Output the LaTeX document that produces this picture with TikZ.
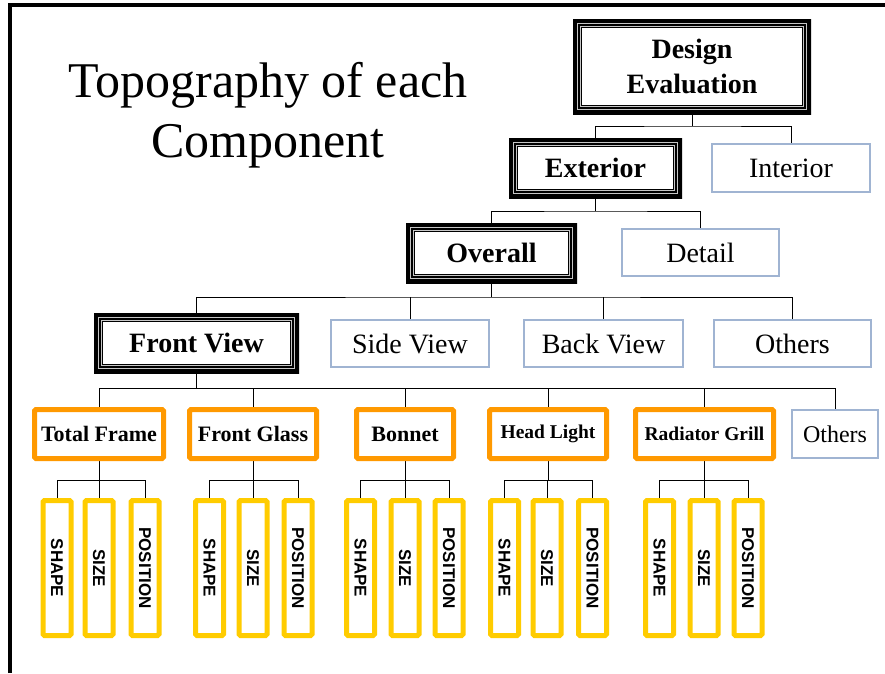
\documentclass[tikz,border=0pt]{standalone}
\usepackage{fontspec}
\setmainfont{Liberation Serif}
\setsansfont{Liberation Sans}
\usepackage{graphicx}
\definecolor{orng}{HTML}{FF9900}
\definecolor{yel}{HTML}{FFCC00}
\definecolor{bluebd}{RGB}{160,180,210}
\pgfdeclarelayer{bg}
\pgfdeclarelayer{paper}
\pgfsetlayers{paper,bg,main}
\begin{document}
\begin{tikzpicture}[x=1pt,y=-1pt,
 every node/.style={inner sep=0pt, outer sep=0pt},
 tripbox/.style={font=\bfseries\fontsize{28}{35}\selectfont, align=center,
   path picture={
     \draw[line width=18pt] (path picture bounding box.south west) rectangle (path picture bounding box.north east);
     \draw[gray!45,line width=0.8pt] ([shift={(4.5pt,4.5pt)}]path picture bounding box.south west) rectangle ([shift={(-4.5pt,-4.5pt)}]path picture bounding box.north east);
     \draw[gray!45,line width=0.8pt] ([shift={(7.5pt,7.5pt)}]path picture bounding box.south west) rectangle ([shift={(-7.5pt,-7.5pt)}]path picture bounding box.north east);
   }},
 bluebox/.style={draw=bluebd, line width=2pt, fill=white, font=\fontsize{28}{34}\selectfont},
 orbox/.style={draw=orng, line width=5pt, rounded corners=1.5pt, fill=white, minimum height=49pt, font=\bfseries\fontsize{22}{26}\selectfont},
 ybox/.style={draw=yel, line width=5pt, rounded corners=1.5pt, fill=white, minimum width=28pt, minimum height=135pt, font=\sffamily\bfseries\fontsize{17}{20}\selectfont},
 conn/.style={draw=black, line width=0.9pt}]
\useasboundingbox (0,0) rectangle (885,673);
\begin{pgfonlayer}{paper}
\fill[white] (0,0) rectangle (885,673);
\end{pgfonlayer}
\draw[line width=4pt] (10,673) -- (10,5) -- (885,5);

% title
\node[font=\fontsize{50}{58}\selectfont, anchor=base] (t1) at (268,97) {Topography of each};
\node[font=\fontsize{50}{58}\selectfont, anchor=base] (t2) at (268,157) {Component};

% levels 1-4
\node[tripbox, minimum width=238pt, minimum height=95pt] (de) at (692,66.5) {Design\\Evaluation};
\node[tripbox, minimum width=173pt, minimum height=60pt] (ext) at (595.5,168) {Exterior};
\node[bluebox, minimum width=158pt, minimum height=48pt] (int) at (791,168) {Interior};
\node[tripbox, minimum width=171pt, minimum height=60pt] (ovr) at (491.5,253) {Overall};
\node[bluebox, minimum width=157pt, minimum height=47pt] (det) at (700.5,252.5) {Detail};
\node[tripbox, minimum width=205pt, minimum height=60pt] (fv) at (196.5,343) {Front View};
\node[bluebox, minimum width=158pt, minimum height=47pt] (sv) at (410,343.5) {Side View};
\node[bluebox, minimum width=159pt, minimum height=47pt] (bv) at (603.5,343.5) {Back View};
\node[bluebox, minimum width=157pt, minimum height=47pt] (oth1) at (792.5,343.5) {Others};

% level 5
\node[orbox, minimum width=129pt] (tf) at (99,434) {Total Frame};
\node[orbox, minimum width=127pt] (fg) at (253,434) {Front Glass};
\node[orbox, minimum width=97pt] (bon) at (405,434) {Bonnet};
\node[orbox, minimum width=117pt, font=\bfseries\fontsize{19.5}{24}\selectfont] (hl) at (548,434) {Head Light};
\node[orbox, minimum width=138pt, font=\bfseries\fontsize{19.5}{24}\selectfont] (rg) at (704.5,434) {Radiator Grill};
\node[bluebox, minimum width=86pt, minimum height=48pt, font=\fontsize{24}{28}\selectfont] (oth2) at (835,434) {Others};

% connectors
\begin{pgfonlayer}{bg}
\coordinate (j1) at (de.south |- 0,126);
\draw[conn] (de.south) -- (j1);
\draw[conn] (ext.north) |- (j1) -| (int.north);
\coordinate (j2) at (ext.south |- 0,211);
\draw[conn] (ext.south) -- (j2);
\draw[conn] (ovr.north) |- (j2) -| (det.north);
\coordinate (j3) at (ovr.south |- 0,297);
\draw[conn] (ovr.south) -- (j3);
\draw[conn] (fv.north) |- (j3) -| (oth1.north);
\draw[conn] (sv.north) -- (sv.north |- j3);
\draw[conn] (bv.north) -- (bv.north |- j3);
\coordinate (j4) at (fv.south |- 0,388);
\draw[conn] (fv.south) -- (j4);
\draw[conn] (tf.north) |- (j4) -| (oth2.north);
\draw[conn] (fg.north) -- (fg.north |- j4);
\draw[conn] (bon.north) -- (bon.north |- j4);
\draw[conn] (hl.north) -- (hl.north |- j4);
\draw[conn] (rg.north) -- (rg.north |- j4);
\end{pgfonlayer}

% level 6
\foreach \i/\o/\xa/\xb/\xc in {1/tf/57/99/145, 2/fg/209.5/253/298, 3/bon/360.5/405/449, 4/hl/504.5/547/592.5, 5/rg/659.5/704/748} {
  \node[ybox] (sh\i) at (\xa,568) {\rotatebox{-90}{SHAPE}};
  \node[ybox] (sz\i) at (\xb,568) {\rotatebox{-90}{SIZE}};
  \node[ybox] (ps\i) at (\xc,568) {\rotatebox{-90}{POSITION}};
  \begin{pgfonlayer}{bg}
  \coordinate (k\i) at (\o.south |- 0,480);
  \draw[conn] (\o.south) -- (k\i);
  \draw[conn] (sh\i.north) |- (k\i) -| (ps\i.north);
  \draw[conn] (sz\i.north) -- (sz\i.north |- k\i);
  \end{pgfonlayer}
}
\end{tikzpicture}
\end{document}
